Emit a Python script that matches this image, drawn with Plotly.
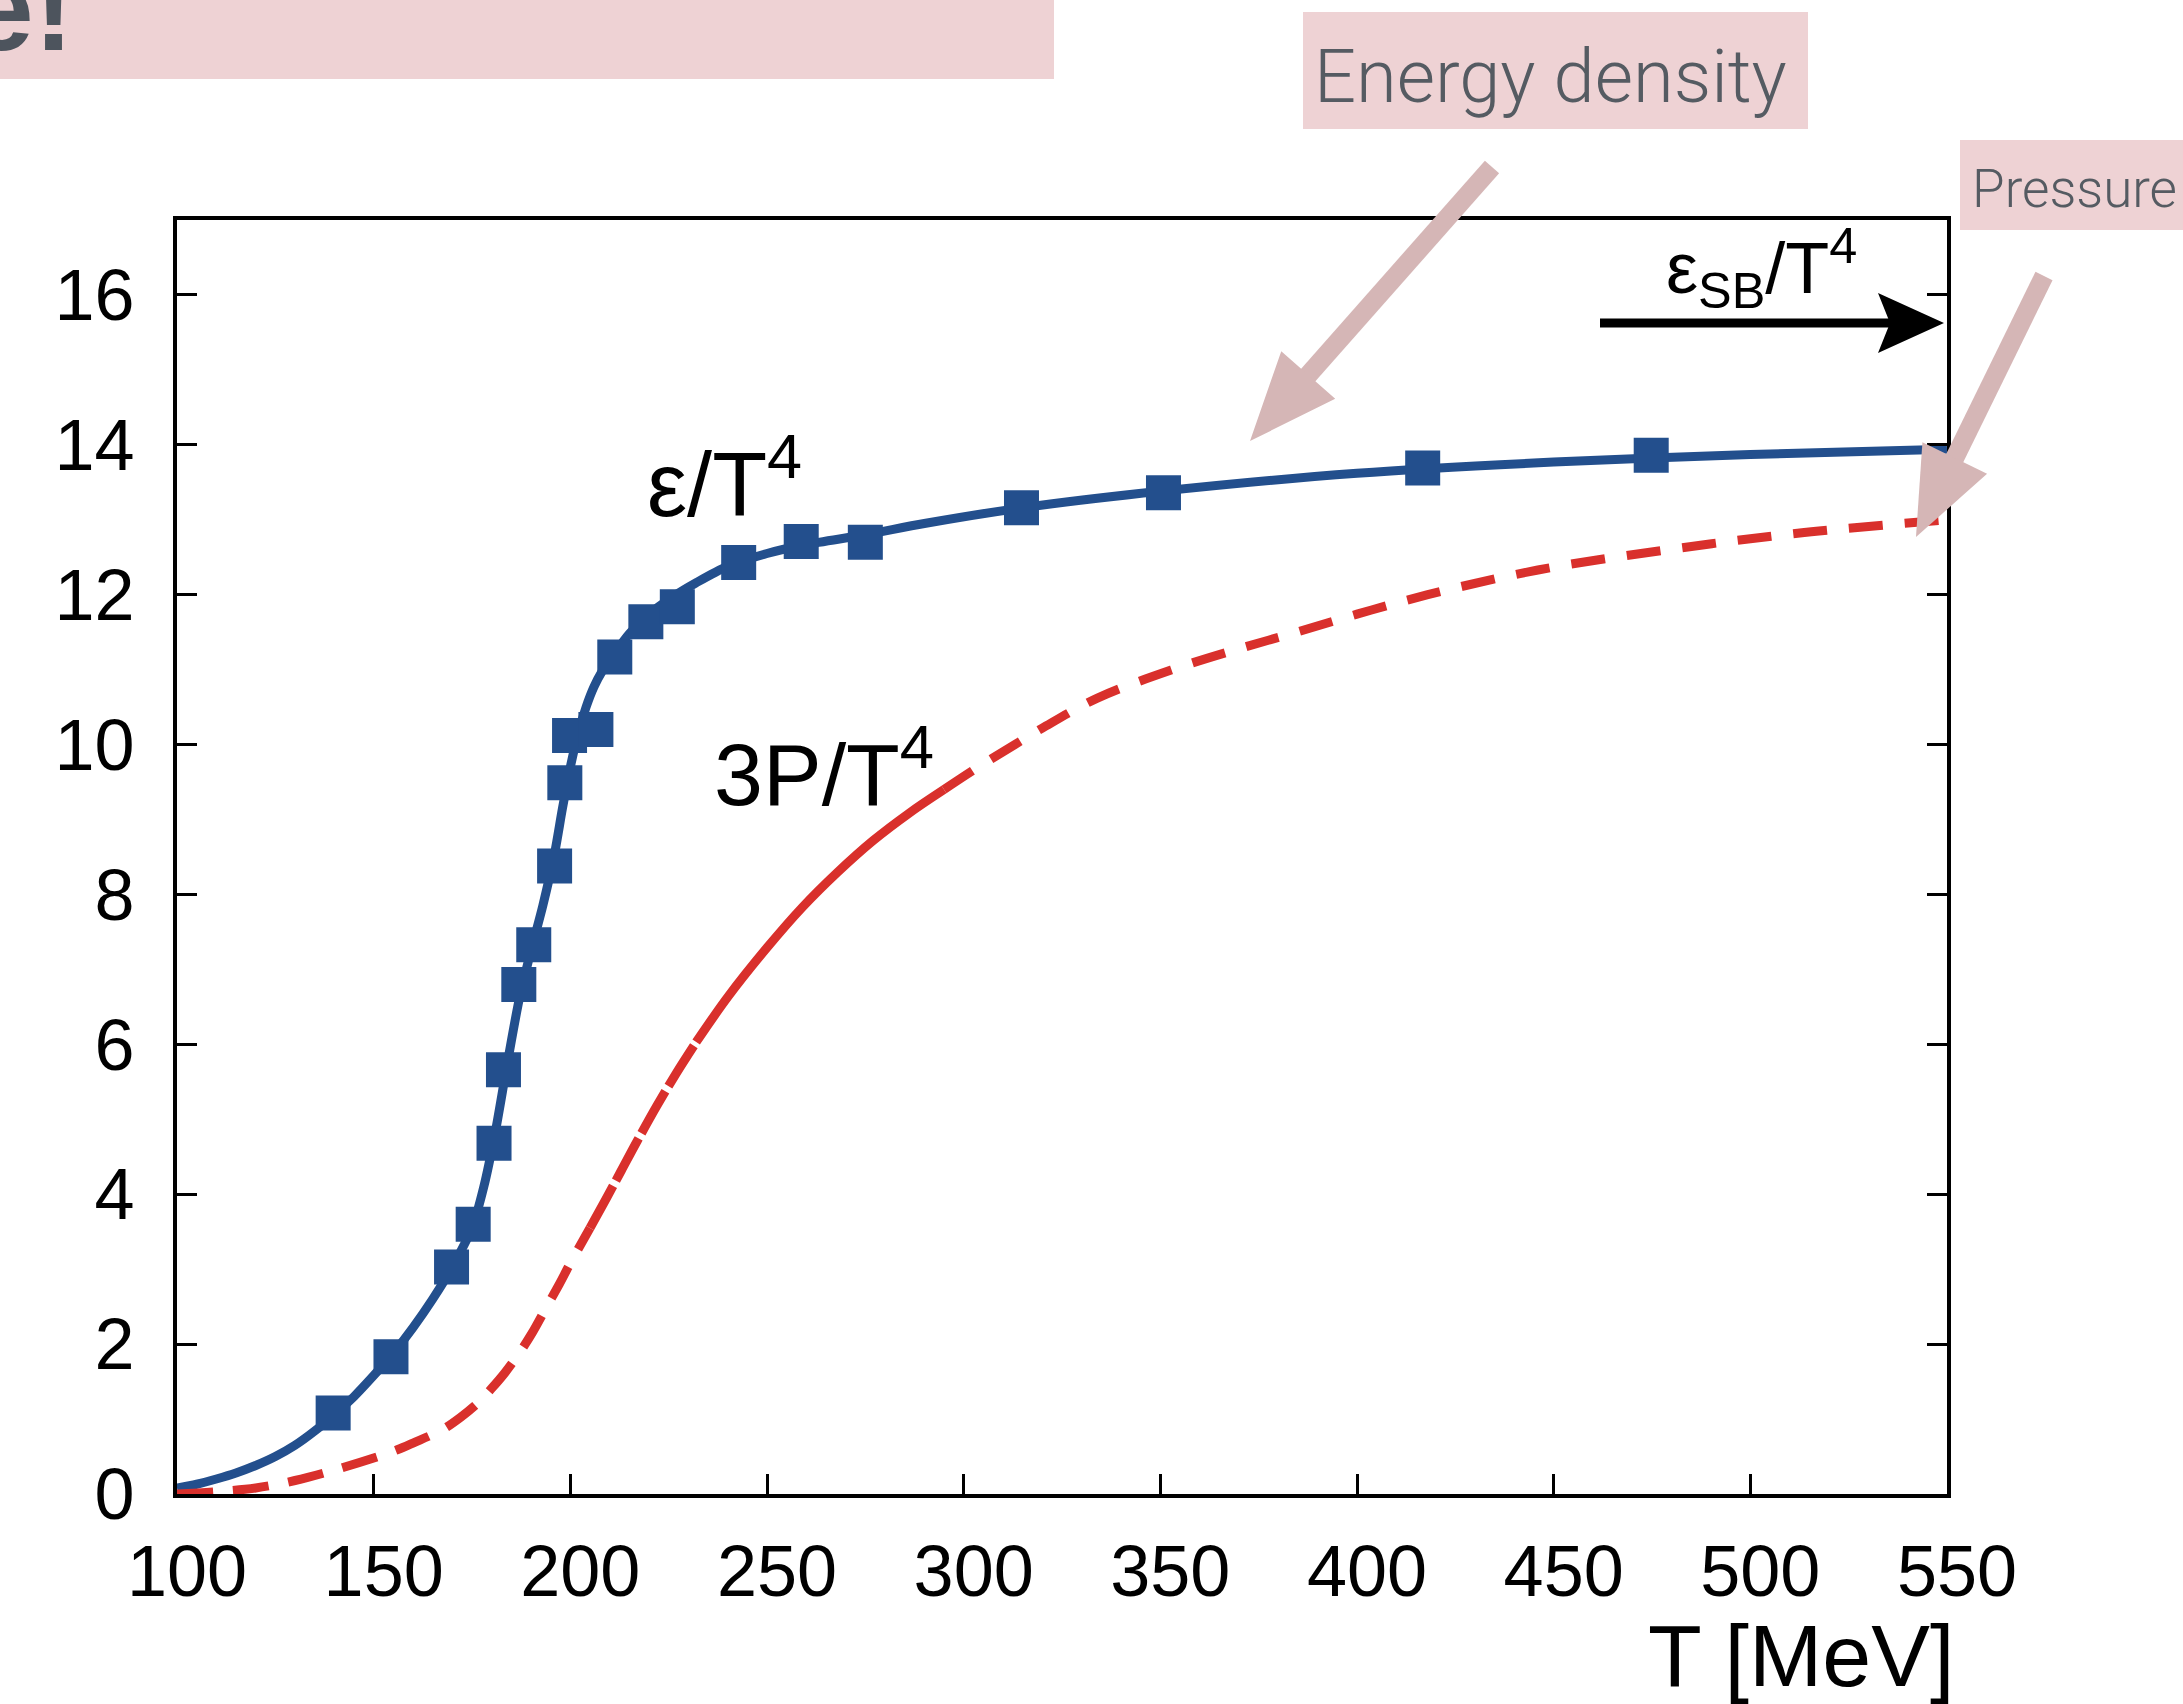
import plotly.graph_objects as go

# ---------------- data ----------------
eps_T = [139.7, 154.4, 169.8, 175.3, 180.6, 183.0, 186.9, 190.7, 196.0, 198.6, 199.8,
         206.5, 211.3, 219.2, 227.2, 242.8, 258.7, 275.0, 314.7, 350.8, 416.7, 474.8]
eps_val = [1.08, 1.83, 3.03, 3.60, 4.68, 5.66, 6.80, 7.33, 8.38, 9.49, 10.12,
           10.20, 11.17, 11.64, 11.84, 12.43, 12.71, 12.70, 13.16, 13.36, 13.69, 13.86]

fit_T = [100, 105, 110, 115, 120, 125, 130, 135, 140, 145, 150, 155, 160, 165, 170, 175,
         178, 181, 184, 187, 190, 193, 196, 198, 200, 202, 204, 206, 208, 211, 215, 220,
         226, 232, 240, 250, 260, 275, 290, 315, 350, 400, 450, 500, 550]
fit_val = [0.08, 0.13, 0.2, 0.28, 0.38, 0.5, 0.65, 0.84, 1.06, 1.3, 1.58, 1.88, 2.22, 2.6,
           3.03, 3.55, 4.1, 4.85, 5.75, 6.6, 7.25, 7.85, 8.55, 9.15, 9.7, 10.15, 10.5,
           10.77, 10.97, 11.2, 11.48, 11.74, 11.97, 12.16, 12.38, 12.55, 12.67, 12.8,
           12.95, 13.16, 13.38, 13.62, 13.77, 13.87, 13.94]

p_T = [100, 110, 120, 130, 140, 150, 156, 160, 167.5, 172, 176.6, 180, 183.4, 187, 190.3,
       194, 197.2, 200, 205, 209, 213, 217, 222, 227, 232, 240, 250, 259, 268, 277, 286,
       295, 304, 313, 320, 334, 353, 370, 384, 400, 418, 446, 479, 512, 550]
p_val = [0.0, 0.03, 0.08, 0.18, 0.32, 0.48, 0.59, 0.68, 0.86, 1.02, 1.22, 1.41, 1.62, 1.88,
         2.15, 2.5, 2.8, 3.08, 3.55, 3.93, 4.32, 4.71, 5.18, 5.62, 6.03, 6.63, 7.29, 7.83,
         8.3, 8.72, 9.08, 9.4, 9.71, 10.0, 10.22, 10.62, 11.0, 11.28, 11.49, 11.74, 12.0,
         12.33, 12.6, 12.82, 13.0]

x_ticks = [100, 150, 200, 250, 300, 350, 400, 450, 500, 550]
y_ticks = [0, 2, 4, 6, 8, 10, 12, 14, 16]

# segments of the 3P/T^4 curve and their dash style
p_segments = [(100, 205, "36px,20px"), (205, 232, "48px,6px"),
              (232, 295, "solid"), (295, 550, "34px,22px")]

BLUE = "#234f8d"
RED = "#d9302c"
PINK_BOX = "#eed2d4"
PINK_ARROW = "#d5b6b6"
GREY_TXT = "#555b62"

W, H = 2183, 1704
L, R, T, B = 177, 1947, 220, 1494


def px(x):
    return (x - L) / (R - L)


def py(y):
    return (B - y) / (B - T)


fig = go.Figure()

fig.add_trace(go.Scatter(x=fit_T, y=fit_val, mode="lines",
                         line=dict(color=BLUE, width=9, shape="spline", smoothing=0.8),
                         hoverinfo="skip"))
for lo, hi, dash in p_segments:
    xs = [t for t in p_T if lo <= t <= hi]
    ys = [v for t, v in zip(p_T, p_val) if lo <= t <= hi]
    fig.add_trace(go.Scatter(x=xs, y=ys, mode="lines",
                             line=dict(color=RED, width=9, dash=dash, shape="spline",
                                       smoothing=1.0),
                             hoverinfo="skip"))
fig.add_trace(go.Scatter(x=eps_T, y=eps_val, mode="markers",
                         marker=dict(symbol="square", size=35, color=BLUE,
                                     line=dict(width=0))))

axis_common = dict(showgrid=False, zeroline=False, showline=True, linecolor="black",
                   linewidth=4, ticks="inside", ticklen=20, tickwidth=3,
                   tickcolor="black",
                   tickfont=dict(family="Liberation Sans, Arial", size=72, color="black"))

fig.update_xaxes(range=[100, 550], tickvals=x_ticks, mirror=True,
                 ticklabelstandoff=12, ticklabelshift=10, **axis_common)
fig.update_yaxes(range=[0, 17], tickvals=y_ticks, mirror="ticks",
                 ticklabelstandoff=24, **axis_common)

shapes = []
# pink boxes
for x0, y0, x1, y1 in [(-5, -5, 1054, 79), (1303, 12, 1808, 129), (1960, 140, 2190, 230)]:
    shapes.append(dict(type="rect", xref="paper", yref="paper", x0=px(x0), x1=px(x1),
                       y0=py(y1), y1=py(y0), fillcolor=PINK_BOX, line=dict(width=0),
                       layer="above"))


def arrow(start, tip, color, shaft_w, head_len, head_half, notch=0.0):
    sx, sy = start
    tx, ty = tip
    dx, dy = tx - sx, ty - sy
    ln = (dx * dx + dy * dy) ** 0.5
    ux, uy = dx / ln, dy / ln
    nx, ny = -uy, ux
    bx, by = tx - head_len * ux, ty - head_len * uy
    ex, ey = bx + (notch + 4) * ux, by + (notch + 4) * uy
    out = [dict(type="line", xref="paper", yref="paper", x0=px(sx), y0=py(sy),
                x1=px(ex), y1=py(ey), line=dict(color=color, width=shaft_w),
                layer="above")]
    c1 = (bx + head_half * nx, by + head_half * ny)
    c2 = (bx - head_half * nx, by - head_half * ny)
    mid = (bx + notch * ux, by + notch * uy)
    path = (f"M {px(tx)},{py(ty)} L {px(c1[0])},{py(c1[1])} L {px(mid[0])},{py(mid[1])} "
            f"L {px(c2[0])},{py(c2[1])} Z")
    out.append(dict(type="path", xref="paper", yref="paper", path=path, fillcolor=color,
                    line=dict(width=0), layer="above"))
    return out


shapes += arrow((1492, 167), (1250, 441), PINK_ARROW, 19, 88, 36)
shapes += arrow((2044, 276), (1916, 537), PINK_ARROW, 19, 88, 36)
shapes += arrow((1600, 323), (1944, 323), "black", 9, 66, 30, notch=12)

annotations = []


def txt(text, x, y, size, xanchor="left", family="Liberation Sans, Arial", color="black",
        weight="normal"):
    annotations.append(dict(text=text, xref="paper", yref="paper", x=px(x), y=py(y),
                            xanchor=xanchor, yanchor="middle", showarrow=False,
                            font=dict(family=family, size=size, color=color,
                                      weight=weight)))


txt("ε/T<sup>4</sup>", 645, 478, 90)
txt("3P/T<sup>4</sup>", 712, 768, 88)
txt("ε<sub>SB</sub>/T<sup>4</sup>", 1664, 268, 72)
txt("T [MeV]", 1956, 1655, 88, xanchor="right")
txt("Energy density", 1312, 77, 74, family="Roboto", color=GREY_TXT, weight=300)
txt("Pressure", 1970, 189, 53, family="Roboto", color=GREY_TXT, weight=300)
txt("e!", 76, 8, 120, xanchor="right", family="Liberation Sans, Arial",
    color="#4d545d", weight="bold")

fig.update_layout(width=W, height=H, margin=dict(l=L, r=W - R, t=T, b=H - B),
                  plot_bgcolor="white", paper_bgcolor="white", showlegend=False,
                  shapes=shapes, annotations=annotations)

fig.write_html("out.html")
